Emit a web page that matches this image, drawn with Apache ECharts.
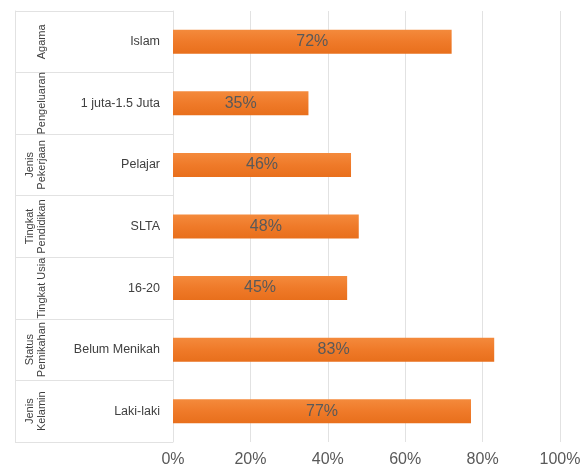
<!DOCTYPE html>
<html>
<head>
<meta charset="utf-8">
<script src="https://cdn.jsdelivr.net/npm/echarts@6/dist/echarts.min.js"></script>
<style>html,body{margin:0;padding:0;background:#fff;}#c{width:587px;height:468px;}</style>
</head>
<body>
<div id="c"></div>
<script>
const categories = ['Islam', '1 juta-1.5 Juta', 'Pelajar', 'SLTA', '16-20', 'Belum Menikah', 'Laki-laki'];
const groups = ['Agama', 'Pengeluaran', 'Jenis\nPekerjaan', 'Tingkat\nPendidikan', 'Tingkat Usia', 'Status\nPemikahan', 'Jenis\nKelamin'];
const values = [72, 35, 46, 48, 45, 83, 77];
const xTicks = [0, 20, 40, 60, 80, 100];

const chart = echarts.init(document.getElementById('c'), null, {renderer: 'canvas'});
const font = 'Liberation Sans, Arial, sans-serif';
chart.setOption({
  animation: false,
  grid: {left: 173, right: 27, top: 11, bottom: 24, containLabel: false},
  xAxis: {
    type: 'value', min: xTicks[0], max: xTicks[xTicks.length - 1], interval: 20,
    axisLine: {show: false}, axisTick: {show: false},
    splitLine: {show: true, lineStyle: {color: '#E2E2E2', width: 1}},
    axisLabel: {formatter: v => v + '%', color: '#595959', fontSize: 16, fontFamily: font, margin: 10}
  },
  yAxis: [{
    type: 'category', data: categories, inverse: true,
    axisLine: {show: true, lineStyle: {color: '#E2E2E2'}},
    axisTick: {show: true, length: 158, lineStyle: {color: '#E2E2E2'}},
    axisLabel: {interval: 0, color: '#404040', fontSize: 12.5, fontFamily: font, margin: 13, align: 'right'}
  }, {
    type: 'category', data: groups, inverse: true, position: 'left', offset: 158,
    axisLine: {show: true, lineStyle: {color: '#E2E2E2'}},
    axisTick: {show: false},
    axisLabel: {interval: 0, hideOverlap: false, inside: true, rotate: 90, color: '#404040', fontSize: 11, fontFamily: font, margin: 33, lineHeight: 12, align: 'center', verticalAlign: 'bottom'}
  }],
  series: [{
    type: 'bar', data: values, yAxisIndex: 0, barWidth: 24,
    itemStyle: {color: new echarts.graphic.LinearGradient(0, 0, 0, 1, [
      {offset: 0, color: '#F48A3C'}, {offset: 0.5, color: '#EF7A29'}, {offset: 1, color: '#E86F1C'}])},
    label: {show: true, position: 'inside', formatter: p => p.value + '%', color: '#595959', fontSize: 16, fontFamily: font}
  }]
});
</script>
</body>
</html>
